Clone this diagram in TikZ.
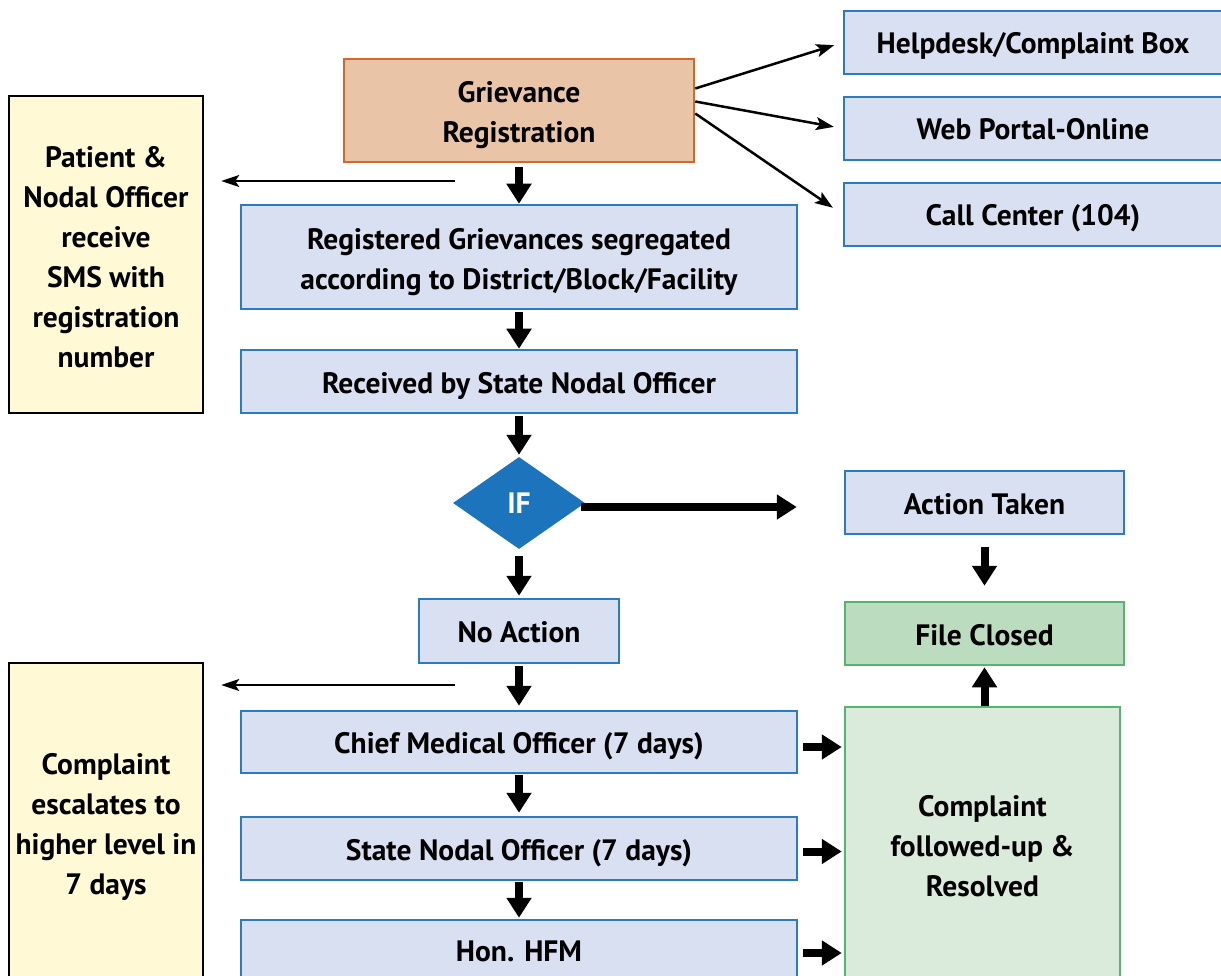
\documentclass[tikz,border=0pt]{standalone}
\usepackage{fontspec}
\setmainfont{PT Sans}
\usetikzlibrary{arrows.meta,shapes.geometric}
\definecolor{peachfill}{HTML}{E9C4A7}
\definecolor{peachline}{HTML}{D2692A}
\definecolor{bluefill}{HTML}{D9E0F2}
\definecolor{blueline}{HTML}{2A7BC0}
\definecolor{yelfill}{HTML}{FFFAD5}
\definecolor{diafill}{HTML}{1C75BC}
\definecolor{greenfill}{HTML}{BBDCBF}
\definecolor{greenlight}{HTML}{DAEADB}
\definecolor{greenline}{HTML}{55B46E}
\newcommand\mytopstrut{\rule{0pt}{35pt}}
\newcommand\mybotstrut{\rule[-10pt]{0pt}{10pt}}
\begin{document}
\begin{tikzpicture}[x=1pt,y=-1pt,
  base/.style={rectangle,inner sep=0pt,line width=2.5pt,align=center,
    font=\fontsize{29.5}{40}\selectfont\bfseries},
  sline/.style={execute at begin node={\rule{0pt}{33pt}},
    execute at end node={\rule[-10pt]{0pt}{10pt}}},
  peachbox/.style={base,draw=peachline,fill=peachfill},
  bluebox/.style={base,draw=blueline,fill=bluefill},
  yelbox/.style={base,draw=black,fill=yelfill},
  greenbox/.style={base,draw=greenline,fill=greenfill},
  lgreenbox/.style={base,draw=greenline,fill=greenlight},
  decision/.style={diamond,aspect=1.43,inner sep=0pt,fill=diafill,text=white,
    minimum width=132pt,minimum height=92pt,
    font=\fontsize{29.5}{40}\selectfont\bfseries},
  thickarrow/.style={line width=8pt,-{Triangle[width=24pt,length=20pt]}},
  thinarrow/.style={line width=2.5pt,-{Stealth[width=13pt,length=18pt,inset=4pt]}},
  leftarrow/.style={line width=2pt,-{Stealth[width=12pt,length=18pt,inset=4pt]}}
]
\useasboundingbox (0,0) rectangle (1221,976);

\node[peachbox,minimum width=350pt,minimum height=103pt] (greg) at (519,110.5)
  {\mytopstrut Grievance\\Registration\mybotstrut};
\node[bluebox,sline,minimum width=378pt,minimum height=63pt] (help) at (1033,42.5) {Helpdesk/Complaint Box};
\node[bluebox,sline,minimum width=378pt,minimum height=63pt] (web) at (1033,128.5) {Web Portal-Online};
\node[bluebox,sline,minimum width=378pt,minimum height=63pt] (call) at (1033,214.5) {Call Center (104)};

\node[yelbox,minimum width=194pt,minimum height=317pt] (pat) at (106,254.5)
  {\mytopstrut Patient \&\\Nodal Officer\\receive\\SMS with\\registration\\number\mybotstrut};
\node[bluebox,minimum width=556pt,minimum height=104pt] (seg) at (519,257)
  {\mytopstrut Registered Grievances segregated\\according to District/Block/Facility\mybotstrut};
\node[bluebox,sline,minimum width=556pt,minimum height=63pt] (recv) at (519,381.5) {Received by State Nodal Officer};
\node[decision] (if) at (519,503) {IF};
\node[bluebox,sline,minimum width=279pt,minimum height=63pt] (act) at (984.5,502.5) {Action Taken};
\node[greenbox,sline,minimum width=279pt,minimum height=63pt] (fc) at (984.5,633.5) {File Closed};
\node[lgreenbox,minimum width=275pt,minimum height=273pt] (cfr) at (982.5,843.5)
  {\mytopstrut Complaint\\followed-up \&\\Resolved\mybotstrut};
\node[bluebox,sline,minimum width=200pt,minimum height=64pt] (noact) at (519,631) {No Action};
\node[yelbox,minimum width=194pt,minimum height=317pt] (esc) at (106,821.5)
  {\mytopstrut Complaint\\escalates to\\higher level in\\7 days\mybotstrut};
\node[bluebox,sline,minimum width=556pt,minimum height=62pt] (cmo) at (519,742) {Chief Medical Officer (7 days)};
\node[bluebox,sline,minimum width=556pt,minimum height=63pt] (sno) at (519,848.5) {State Nodal Officer (7 days)};
\node[bluebox,sline,minimum width=556pt,minimum height=60pt] (hfm) at (519,950) {Hon. HFM};

% diagonal arrows to channels
\draw[thinarrow,shorten >=9pt] ([yshift=22pt]greg.east) -- (help.west);
\draw[thinarrow,shorten >=9pt] ([yshift=9pt]greg.east) -- (web.west);
\draw[thinarrow,shorten >=12pt] ([yshift=-3pt]greg.east) -- (call.west);

% main vertical flow
\draw[thickarrow,shorten <=4pt] (greg.south) -- (seg.north);
\draw[thickarrow,shorten <=2pt] (seg.south) -- (recv.north);
\draw[thickarrow,shorten <=2pt,shorten >=2pt] (recv.south) -- (if.north);
\draw[thickarrow,shorten <=7pt,shorten >=2pt] (if.south) -- (noact.north);
\draw[thickarrow,shorten <=2pt,shorten >=4pt] (noact.south) -- (cmo.north);
\draw[thickarrow,shorten <=1pt,shorten >=3pt] (cmo.south) -- (sno.north);
\draw[thickarrow,shorten <=1pt,shorten >=1pt] (sno.south) -- (hfm.north);

% IF -> action taken
\coordinate (ifr) at ([xshift=-4pt,yshift=-4pt]if.east);
\draw[thickarrow,shorten >=47pt] (ifr) -- (ifr -| act.west);
\draw[thickarrow,shorten <=12pt,shorten >=15pt] (act.south) -- (fc.north);
\draw[thickarrow,shorten >=1pt] (cfr.north -| fc.south) -- (fc.south);

% to resolution box
\draw[thickarrow,shorten <=5pt,shorten >=2pt] ([yshift=-5pt]cmo.east) -- ([yshift=-5pt]cmo.east -| cfr.west);
\draw[thickarrow,shorten <=5pt,shorten >=2pt] ([yshift=-3pt]sno.east) -- ([yshift=-3pt]sno.east -| cfr.west);
\draw[thickarrow,shorten <=5pt,shorten >=2pt] ([yshift=-3pt]hfm.east) -- ([yshift=-3pt]hfm.east -| cfr.west);

% thin left arrows (SMS / escalation notes)
\coordinate (s1) at (455,181);
\draw[leftarrow,shorten >=17pt] (s1) -- (s1 -| pat.east);
\coordinate (s2) at (455,685);
\draw[leftarrow,shorten >=17pt] (s2) -- (s2 -| esc.east);
\end{tikzpicture}
\end{document}
